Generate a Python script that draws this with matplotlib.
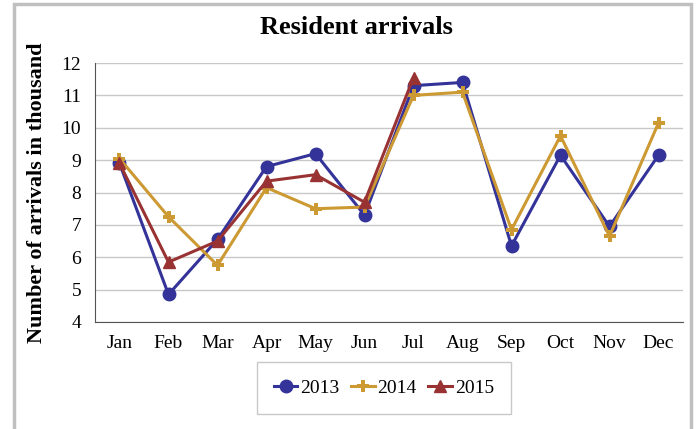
import matplotlib
matplotlib.use('Agg')
import matplotlib.pyplot as plt
from matplotlib.patches import Rectangle

months = ['Jan', 'Feb', 'Mar', 'Apr', 'May', 'Jun', 'Jul', 'Aug', 'Sep', 'Oct', 'Nov', 'Dec']
y2013 = [8.9, 4.85, 6.55, 8.8, 9.2, 7.3, 11.3, 11.4, 6.35, 9.15, 6.95, 9.15]
y2014 = [9.05, 7.25, 5.75, 8.15, 7.5, 7.55, 11.0, 11.1, 6.85, 9.75, 6.65, 10.15]
y2015 = [8.9, 5.85, 6.5, 8.35, 8.55, 7.7, 11.55]

plt.rcParams['font.family'] = ['Liberation Serif', 'DejaVu Serif']

fig = plt.figure(figsize=(6.99, 4.29), dpi=100)
ax = fig.add_axes([95/699, 1-322/429, (683-95)/699, (322-63)/429])

x = list(range(len(months)))
ax.plot(x, y2013, color='#333399', lw=2.2, marker='o', ms=9, label='2013', zorder=3)
ax.plot(x, y2014, color='#CC9933', lw=2.2, marker='P', ms=8, label='2014', zorder=4,
        markeredgewidth=0)
ax.plot(x[:len(y2015)], y2015, color='#993333', lw=2.2, marker='^', ms=8, label='2015', zorder=5)

ax.set_xlim(-0.5, 11.5)
ax.set_ylim(4, 12)
ax.set_yticks(range(4, 13))
ax.set_xticks(x)
ax.set_xticklabels(months)
ax.tick_params(length=0, labelsize=14, pad=9)
ax.tick_params(axis='y', pad=10)
ax.grid(axis='y', color='#c8c8c8', lw=1)
ax.set_axisbelow(True)
for s in ['top', 'right']:
    ax.spines[s].set_visible(False)
ax.spines['left'].set_color('#555555')
ax.spines['bottom'].set_color('#555555')

ax.set_ylabel('Number of arrivals in thousand', fontsize=16, fontweight='bold', labelpad=10)
fig.text(356/699, 1-27/429, 'Resident arrivals', ha='center', va='center', fontsize=19, fontweight='bold')

leg = ax.legend(loc='center', bbox_to_anchor=(384/699, 1-388/429), bbox_transform=fig.transFigure,
                ncol=3, fontsize=14, frameon=True, fancybox=False, edgecolor='#bbbbbb',
                handlelength=1.2, columnspacing=0.6, handletextpad=0.15, borderpad=0.9)

fig.patches.append(Rectangle((14/699, -0.05), (691-14)/699, 1.05-4/429, transform=fig.transFigure,
                             fill=False, edgecolor='#c0c0c0', lw=2.5))

plt.savefig('out.png', dpi=100)
